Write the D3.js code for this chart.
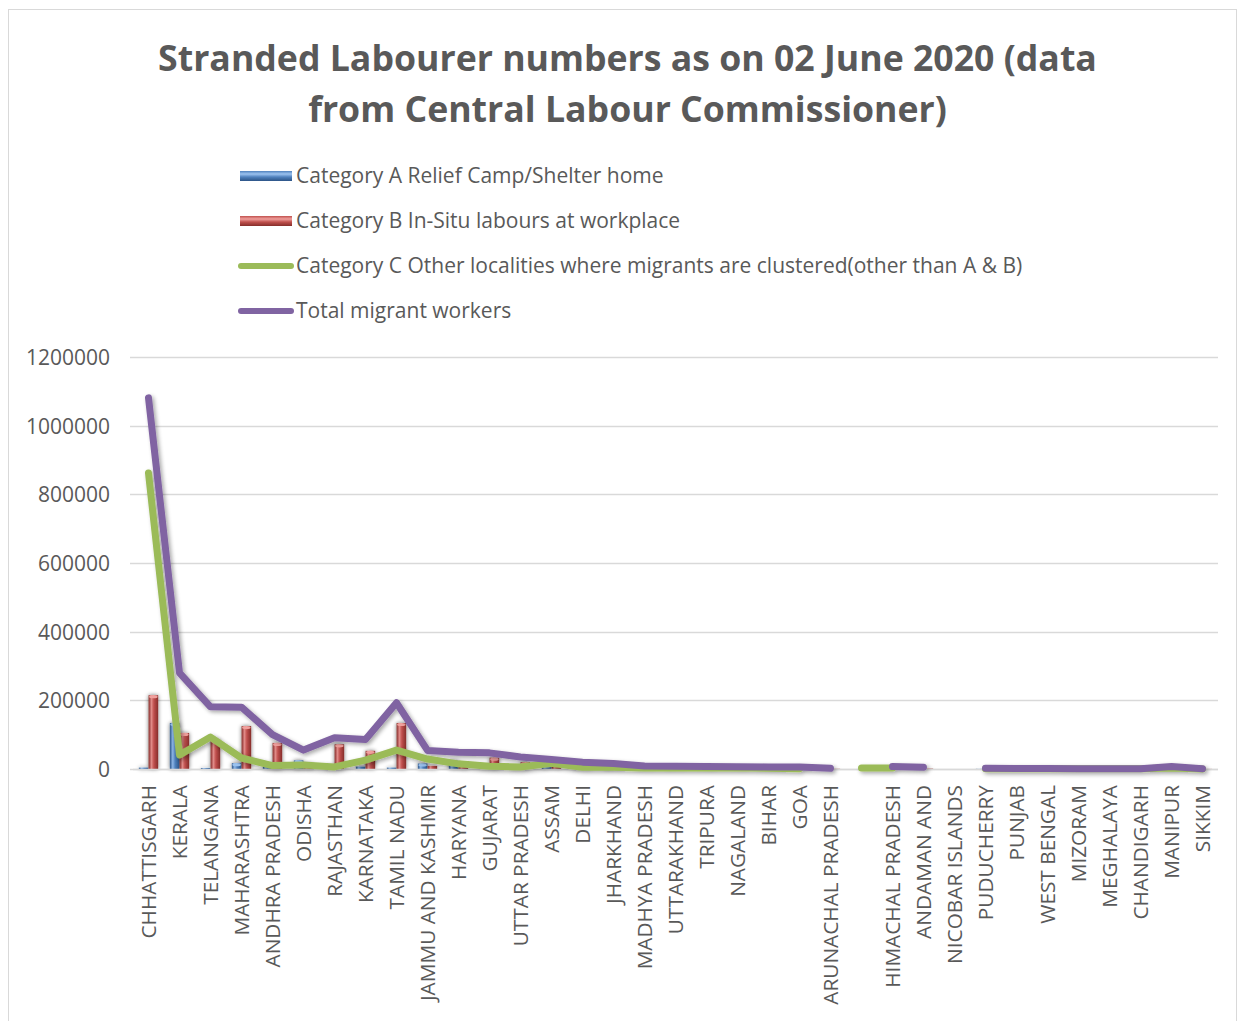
<!DOCTYPE html>
<html>
<head>
<meta charset="utf-8">
<script src="https://cdn.jsdelivr.net/npm/d3@7"></script>
<style>
  html, body { margin: 0; padding: 0; background: #fff; }
  svg { display: block; }
  text { font-family: "Open Sans", "Noto Sans", sans-serif; fill: #595959; }
</style>
</head>
<body>
<svg id="chart" width="1237" height="1021"></svg>
<script>
// ---------------- DATA ----------------
const titleLines = ["Stranded Labourer numbers as on 02 June 2020 (data", "from Central Labour Commissioner)"];

const states = ["CHHATTISGARH", "KERALA", "TELANGANA", "MAHARASHTRA", "ANDHRA PRADESH", "ODISHA",
  "RAJASTHAN", "KARNATAKA", "TAMIL NADU", "JAMMU AND KASHMIR", "HARYANA", "GUJARAT",
  "UTTAR PRADESH", "ASSAM", "DELHI", "JHARKHAND", "MADHYA PRADESH", "UTTARAKHAND",
  "TRIPURA", "NAGALAND", "BIHAR", "GOA", "ARUNACHAL PRADESH", "", "HIMACHAL PRADESH",
  "ANDAMAN AND", "NICOBAR ISLANDS", "PUDUCHERRY", "PUNJAB", "WEST BENGAL", "MIZORAM",
  "MEGHALAYA", "CHANDIGARH", "MANIPUR", "SIKKIM"];

const seriesNames = ["Category A Relief Camp/Shelter home",
  "Category B In-Situ labours at workplace",
  "Category C Other localities where migrants are clustered(other than A & B)",
  "Total migrant workers"];

const categoryA = [4000, 134000, 3000, 17000, 6000, 25000, 8000, 7000, 4000, 16000, 24000, 5000,
  8000, 5000, 10000, 8000, 4000, 3000, 1000, 500, 2000, 1000, 500, null, 1000,
  1000, null, 500, 500, 500, 200, 200, 300, 1000, 100];

const categoryB = [215000, 105000, 85000, 125000, 76000, 15000, 72000, 53000, 134000, 9000, 9000, 33000,
  20000, 6000, 4000, 3000, 2000, 2000, 3000, 2000, 2000, 4000, 500, null, 2000,
  1000, null, 500, 500, 500, 300, 300, 300, 1500, 200];

const categoryC = [862000, 41000, 93000, 32000, 10000, 12000, 6000, 26000, 55000, 29000, 15000, 8000,
  6000, 17000, 5000, 5000, 3000, 3000, 3000, 4000, 2000, 1000, null, 3000, 3000,
  null, null, 500, 500, 500, 400, 400, 400, 3000, 200];

const totalWorkers = [1081000, 280000, 181000, 180000, 100000, 55000, 91000, 86000, 193000, 54000, 49000, 47000,
  35000, 28000, 20000, 16000, 9000, 8000, 7000, 6500, 6000, 6000, 2000, null, 7000,
  5000, null, 2000, 1500, 1500, 1000, 1000, 1000, 7000, 500];

const yTicks = [0, 200000, 400000, 600000, 800000, 1000000, 1200000];

// ---------------- LAYOUT ----------------
const svg = d3.select("#chart");
const plot = { left: 133, right: 1218, top: 357, bottom: 769 };
const colors = { A: "#4F81BD", B: "#C0504D", C: "#9BBB59", T: "#8064A2", text: "#595959", grid: "#D9D9D9" };

const defs = svg.append("defs");

const fl = defs.append("filter").attr("id", "lineShadow").attr("x", "-10%").attr("y", "-10%").attr("width", "120%").attr("height", "120%");
fl.append("feGaussianBlur").attr("in", "SourceAlpha").attr("stdDeviation", 2.2).attr("result", "blur");
fl.append("feOffset").attr("in", "blur").attr("dx", 1.5).attr("dy", 1.5).attr("result", "off");
fl.append("feComponentTransfer").attr("in", "off").attr("result", "sh")
  .append("feFuncA").attr("type", "linear").attr("slope", 0.35);
const flm = fl.append("feMerge");
flm.append("feMergeNode").attr("in", "sh");
flm.append("feMergeNode").attr("in", "SourceGraphic");

const fb = defs.append("filter").attr("id", "barShadow").attr("x", "-60%").attr("y", "-20%").attr("width", "220%").attr("height", "140%");
fb.append("feGaussianBlur").attr("in", "SourceAlpha").attr("stdDeviation", 2.2).attr("result", "blur");
fb.append("feComponentTransfer").attr("in", "blur").attr("result", "sh")
  .append("feFuncA").attr("type", "linear").attr("slope", 0.55);
const fbm = fb.append("feMerge");
fbm.append("feMergeNode").attr("in", "sh");
fbm.append("feMergeNode").attr("in", "SourceGraphic");

function cylGradient(id, dark, mid, light) {
  const g = defs.append("linearGradient").attr("id", id).attr("x1", "0%").attr("x2", "100%").attr("y1", "0%").attr("y2", "0%");
  g.append("stop").attr("offset", "0%").attr("stop-color", dark);
  g.append("stop").attr("offset", "30%").attr("stop-color", light);
  g.append("stop").attr("offset", "55%").attr("stop-color", mid);
  g.append("stop").attr("offset", "100%").attr("stop-color", dark);
}
cylGradient("gradA", "#2c5487", "#4F81BD", "#8db5e6");
cylGradient("gradB", "#862d2a", "#C0504D", "#e08a87");
function legGradient(id, dark, mid, light) {
  const g = defs.append("linearGradient").attr("id", id).attr("x1", "0%").attr("x2", "0%").attr("y1", "0%").attr("y2", "100%");
  g.append("stop").attr("offset", "0%").attr("stop-color", mid);
  g.append("stop").attr("offset", "30%").attr("stop-color", light);
  g.append("stop").attr("offset", "60%").attr("stop-color", mid);
  g.append("stop").attr("offset", "100%").attr("stop-color", dark);
}
legGradient("legA", "#2c5487", "#4F81BD", "#9cc3f0");
legGradient("legB", "#862d2a", "#C0504D", "#f0a09d");

// chart border
svg.append("rect").attr("x", 8.5).attr("y", 9.5).attr("width", 1228).attr("height", 1012)
  .attr("fill", "#fff").attr("stroke", colors.grid).attr("stroke-width", 1);

function fitText(sel, target) {
  const node = sel.node();
  const fs = parseFloat(sel.attr("font-size"));
  const len = node.getComputedTextLength();
  sel.attr("font-size", (fs * target / len).toFixed(2));
}

// title
const t1 = svg.append("text").attr("x", 627.5).attr("y", 71).attr("text-anchor", "middle")
  .attr("font-size", 34).attr("font-weight", "bold").text(titleLines[0]);
fitText(t1, 939);
svg.append("text").attr("x", 627.5).attr("y", 122).attr("text-anchor", "middle")
  .attr("font-size", t1.attr("font-size")).attr("font-weight", "bold").text(titleLines[1]);

// scales
const x = d3.scaleBand().domain(d3.range(states.length)).range([plot.left, plot.right]).padding(0);
const inner = d3.scaleBand().domain(["A", "B"]).range([0, x.bandwidth()]).paddingInner(0.02).paddingOuter(0.6);
const y = d3.scaleLinear().domain([0, 1200000]).range([plot.bottom, plot.top]);

// gridlines
svg.append("g").selectAll("line").data(yTicks).join("line")
  .attr("x1", plot.left - 3).attr("x2", plot.right)
  .attr("y1", d => Math.round(y(d)) + 0.5).attr("y2", d => Math.round(y(d)) + 0.5)
  .attr("stroke", colors.grid).attr("stroke-width", 1.3);

// y axis labels
const yAxis = d3.axisLeft(y).tickValues(yTicks).tickSize(0).tickPadding(0).tickFormat(d3.format("d"));
const gy = svg.append("g").attr("transform", `translate(110,0)`).call(yAxis);
gy.select(".domain").remove();
gy.selectAll("text").attr("font-size", 21).attr("fill", colors.text)
  .attr("font-family", "'Open Sans', sans-serif").attr("dy", "0.35em");

// x axis labels
const xAxis = d3.axisBottom(x).tickSize(0).tickFormat(i => states[i]);
const gx = svg.append("g").attr("transform", `translate(0,${plot.bottom})`).call(xAxis);
gx.select(".domain").remove();
gx.selectAll("text")
  .attr("font-size", 20.8).attr("fill", colors.text)
  .attr("font-family", "'Open Sans', sans-serif")
  .attr("text-anchor", "end")
  .attr("transform", "rotate(-90)")
  .attr("x", -16).attr("y", 0).attr("dy", "0.36em");

// bars
const barData = [];
states.forEach((s, i) => {
  barData.push({ i, key: "A", v: categoryA[i] });
  barData.push({ i, key: "B", v: categoryB[i] });
});
const bars = svg.append("g").attr("filter", "url(#barShadow)");
bars.selectAll("rect").data(barData.filter(d => d.v != null && d.v > 0)).join("rect")
  .attr("x", d => x(d.i) + inner(d.key))
  .attr("width", inner.bandwidth())
  .attr("y", d => y(d.v))
  .attr("height", d => y(0) - y(d.v))
  .attr("fill", d => d.key === "A" ? "url(#gradA)" : "url(#gradB)");
bars.selectAll("ellipse").data(barData.filter(d => d.v != null && (y(0) - y(d.v)) > 4)).join("ellipse")
  .attr("cx", d => x(d.i) + inner(d.key) + inner.bandwidth() / 2)
  .attr("cy", d => y(d.v) + 1.5)
  .attr("rx", inner.bandwidth() / 2 - 0.5).attr("ry", 1.6)
  .attr("fill", d => d.key === "A" ? "#9cc3f0" : "#f0a09d");

// axis baseline
svg.append("line").attr("x1", plot.left).attr("x2", plot.right)
  .attr("y1", plot.bottom + 0.5).attr("y2", plot.bottom + 0.5)
  .attr("stroke", colors.grid).attr("stroke-width", 1.5);

// lines
const cx = i => x(i) + x.bandwidth() / 2;
const line = d3.line().defined(d => d.v != null).x(d => cx(d.i)).y(d => y(d.v));
const lines = svg.append("g").attr("filter", "url(#lineShadow)");
[[categoryC, colors.C], [totalWorkers, colors.T]].forEach(([arr, col]) => {
  lines.append("path").datum(arr.map((v, i) => ({ i, v })))
    .attr("d", line).attr("fill", "none").attr("stroke", col)
    .attr("stroke-width", 7).attr("stroke-linejoin", "round").attr("stroke-linecap", "round");
});

// legend
const legY = [176, 221, 266, 311];
const leg = svg.append("g");
seriesNames.forEach((name, k) => {
  const g = leg.append("g").attr("transform", `translate(0,${legY[k]})`);
  if (k < 2) {
    g.append("rect").attr("x", 240).attr("y", -5).attr("width", 52).attr("height", 10)
      .attr("fill", k === 0 ? "url(#legA)" : "url(#legB)");
  } else {
    g.append("line").attr("x1", 241).attr("x2", 291).attr("y1", 0).attr("y2", 0)
      .attr("stroke", k === 2 ? colors.C : colors.T).attr("stroke-width", 6).attr("stroke-linecap", "round");
  }
  g.append("text").attr("x", 296).attr("y", 0).attr("dy", "0.35em")
    .attr("font-size", 21).text(name);
});
</script>
</body>
</html>
